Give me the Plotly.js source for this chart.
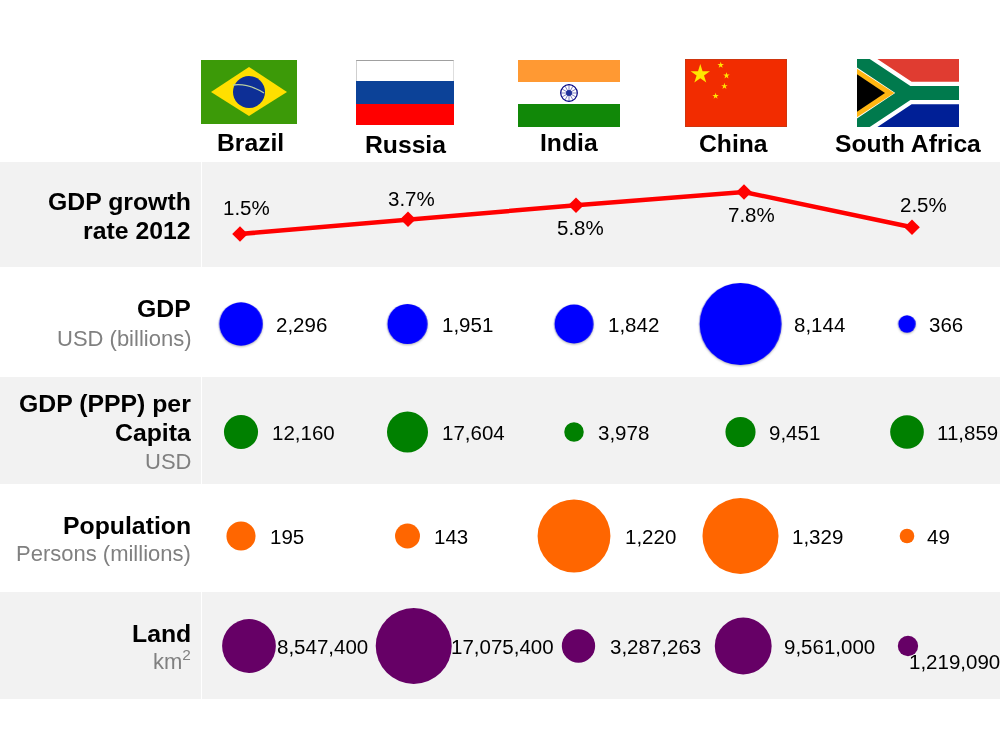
<!DOCTYPE html>
<html><head><meta charset="utf-8">
<script src="https://cdn.plot.ly/plotly-3.0.1.min.js"></script>
<style>html,body{margin:0;padding:0;background:#fff}#c{width:1000px;height:750px}</style>
</head><body><div id="c"></div>
<script>
var countries = ["Brazil","Russia","India","China","South Africa"];
var growth = [1.5,3.7,5.8,7.8,2.5];
var gdp = [2296,1951,1842,8144,366];
var ppp = [12160,17604,3978,9451,11859];
var population = [195,143,1220,1329,49];
var land = [8547400,17075400,3287263,9561000,1219090];
var rowTitles = [["GDP growth","rate 2012"],["GDP"],["GDP (PPP) per","Capita"],["Population"],["Land"]];
var rowSubs = ["","USD (billions)","USD","Persons (millions)","km<sup>2</sup>"];

var FONT = '"Liberation Sans", Arial, sans-serif';
var H = 750, W = 1000;
function xd(a,b){return [a/W,b/W];}
function yd(top,bottom){return [1-bottom/H,1-top/H];}

function star(cx,cy,r){var p=[];for(var i=0;i<10;i++){var a=-Math.PI/2+i*Math.PI/5,R=i%2?r*0.382:r;p.push((cx+R*Math.cos(a)).toFixed(2)+','+(cy+R*Math.sin(a)).toFixed(2));}return '<polygon fill="#ffe600" points="'+p.join(' ')+'"/>';}
function svg(w,h,body){return 'data:image/svg+xml;charset=utf-8,'+encodeURIComponent('<svg xmlns="http://www.w3.org/2000/svg" width="'+w*4+'" height="'+h*4+'" viewBox="0 0 '+w+' '+h+'">'+body+'</svg>');}
var spokes='';for(var s=0;s<12;s++){var an=s*Math.PI/6;spokes+='<line x1="51" y1="33" x2="'+(51+8*Math.cos(an)).toFixed(2)+'" y2="'+(33+8*Math.sin(an)).toFixed(2)+'" stroke="#000080" stroke-width="0.5"/>';}
var flags = [
 {src:svg(96,64,'<rect width="96" height="64" fill="#3c9a08"/><polygon points="10,32 48,7 86,32 48,56" fill="#ffdf00"/><circle cx="48" cy="32" r="16" fill="#0d2f96"/><path d="M32,25 Q47,23 63,33" fill="none" stroke="#b9cfa0" stroke-width="1.3"/>'),x:201,y:60,w:96,h:64},
 {src:svg(98,65,'<rect width="98" height="21" fill="#fff"/><rect y="21" width="98" height="23" fill="#0c4298"/><rect y="44" width="98" height="21" fill="#ff0000"/><rect width="98" height="1" fill="#a0a0a0"/><rect width="0.6" height="21" fill="#b0b0b0"/><rect x="97.4" width="0.6" height="21" fill="#c8c8c8"/>'),x:356,y:60,w:98,h:65},
 {src:svg(102,67,'<rect width="102" height="22" fill="#ff9933"/><rect y="22" width="102" height="22" fill="#fff"/><rect y="44" width="102" height="23" fill="#118808"/>'+spokes+'<circle cx="51" cy="33" r="8.3" fill="none" stroke="#000080" stroke-width="1.2"/><circle cx="51" cy="33" r="3" fill="#20309a"/>'),x:518,y:60,w:102,h:67},
 {src:svg(30,20,'<rect width="30" height="20" fill="#f22c00"/><rect x="0.07" y="0.07" width="29.86" height="19.86" fill="none" stroke="#a8401f" stroke-width="0.14"/>'+star(4.5,4.5,3)+star(10.5,1.8,1)+star(12.2,4.9,1)+star(11.6,8,1)+star(9,10.9,1)),x:685,y:59,w:102,h:68},
 {src:svg(900,600,'<rect width="900" height="300" fill="#e03c31"/><rect y="300" width="900" height="300" fill="#001f96"/><path d="M-20,-13 L450,300 L920,300 M-20,613 L450,300" fill="none" stroke="#fff" stroke-width="200"/><path d="M-20,-13 L450,300 L920,300 M-20,613 L450,300" fill="none" stroke="#007a4d" stroke-width="125"/><polygon points="0,85 330,300 0,515" fill="#ffb612"/><polygon points="0,135 247,300 0,465" fill="#000"/>'),x:857,y:59,w:102,h:68}
];

var lineX = xd(156,996), circX = xd(157.75,990.25), landX = xd(166.6,990.35);
function ax(dom,anchor){return {domain:dom,anchor:anchor,visible:false,type:'category',categoryorder:'array',categoryarray:countries,range:[-0.5,4.5],fixedrange:true};}
function ay(dom,anchor,range){return {domain:dom,anchor:anchor,visible:false,range:range,fixedrange:true};}
var layout = {
  width:W,height:H,margin:{l:0,r:0,t:0,b:0},paper_bgcolor:'#fff',plot_bgcolor:'rgba(0,0,0,0)',showlegend:false,
  font:{family:FONT,size:20,color:'#000'},
  xaxis:ax(lineX,'y'),yaxis:ay(yd(177.3,244),'x',[0,10]),
  xaxis2:ax(circX,'y2'),yaxis2:ay(yd(294,354),'x2',[-1,1]),
  xaxis3:ax(circX,'y3'),yaxis3:ay(yd(402,462),'x3',[-1,1]),
  xaxis4:ax(circX,'y4'),yaxis4:ay(yd(506,566),'x4',[-1,1]),
  xaxis5:ax(landX,'y5'),yaxis5:ay(yd(616,676),'x5',[-1,1]),
  shapes:[[162,267],[377,484],[592,699]].map(function(b){return {type:'rect',xref:'paper',yref:'paper',layer:'below',x0:0,x1:1,y0:1-b[1]/H,y1:1-b[0]/H,fillcolor:'#f2f2f2',line:{width:0}};})
   .concat([[162,267],[377,484],[592,699]].map(function(b){return {type:'line',xref:'paper',yref:'paper',layer:'below',x0:0.2015,x1:0.2015,y0:1-b[1]/H,y1:1-b[0]/H,line:{color:'#fff',width:1}};})),
  images:flags.map(function(f){return {source:f.src,xref:'paper',yref:'paper',x:f.x/W,y:1-f.y/H,sizex:f.w/W,sizey:f.h/H,xanchor:'left',yanchor:'top',sizing:'stretch',layer:'above'};}),
  annotations:[]
};
var A = layout.annotations;
function note(o){A.push(Object.assign({showarrow:false,borderpad:0,borderwidth:0},o));}
// header labels
var headX=[250,405,569,733,908], headY=[142,144.5,142,144,143];
countries.forEach(function(c,i){note({xref:'paper',yref:'paper',x:headX[i]/W,y:1-headY[i]/H,xanchor:'center',yanchor:'middle',text:'<b>'+c+'</b>',font:{size:24.7,family:FONT,color:'#000'}});});
// row labels
var titleY=[201,309,403,525,633], subY=[0,338,461,553,660];
rowTitles.forEach(function(lines,i){
  lines.forEach(function(t,k){
    note({xref:'paper',yref:'paper',x:191/W,y:1-(titleY[i]+k*29.5)/H,xanchor:'right',yanchor:'middle',align:'right',text:'<b>'+t+'</b>',font:{size:24.8,family:FONT,color:'#000'}});
  });
  if(rowSubs[i]) note({xref:'paper',yref:'paper',x:191/W,y:1-subY[i]/H,xanchor:'right',yanchor:'middle',align:'right',text:rowSubs[i],font:{size:22,family:FONT,color:'#808080'}});
});
// growth labels
var gShiftX=[6,3,4,7,11], gShiftY=[26,21,-22,-23,23];
countries.forEach(function(c,i){note({xref:'x',yref:'y',x:c,y:growth[i],xanchor:'center',yanchor:'middle',xshift:gShiftX[i],yshift:gShiftY[i],text:growth[i].toFixed(1)+'%',font:{size:20.5,family:FONT,color:'#000'}});});

var traces=[{type:'scatter',mode:'lines+markers',xaxis:'x',yaxis:'y',x:countries,y:growth,line:{color:'#ff0000',width:4.5},marker:{symbol:'diamond',size:12,color:'#ff0000'},hoverinfo:'skip',cliponaxis:false}];
function row(vals,n,color,ref,gaps,yshifts){
  var id=n===1?'':n;
  traces.push({type:'scatter',mode:'markers',xaxis:'x'+id,yaxis:'y'+id,x:countries,y:vals.map(function(){return 0;}),cliponaxis:false,hoverinfo:'skip',
    marker:{color:color,opacity:1,size:vals,sizemode:'area',sizeref:ref,line:{width:0}}});
  vals.forEach(function(v,i){
    var r=Math.sqrt(v/2/ref);
    note({xref:'x'+id,yref:'y'+id,x:countries[i],y:0,xanchor:'left',yanchor:'middle',xshift:r+gaps[i],yshift:yshifts?yshifts[i]:0,text:v.toLocaleString('en-US'),font:{size:20.5,family:FONT,color:'#000'}});
  });
}
row(gdp,2,'#0000ff',2.42,[13,14,14,12,13]);
row(ppp,3,'#008000',20.9,[14,14,14,13,13]);
row(population,4,'#ff6600',0.46,[14,14,15,13,13]);
row(land,5,'#660066',5913,[1,-1,15,12,-9],[0,0,0,0,-15]);
Plotly.newPlot('c',traces,layout,{displayModeBar:false,staticPlot:true}).then(function(gd){
  var groups=document.querySelectorAll('#c .scatterlayer .trace');
  if(groups[1]) groups[1].style.filter='drop-shadow(0 1.5px 1px rgba(0,0,0,0.3))';
});
</script></body></html>
